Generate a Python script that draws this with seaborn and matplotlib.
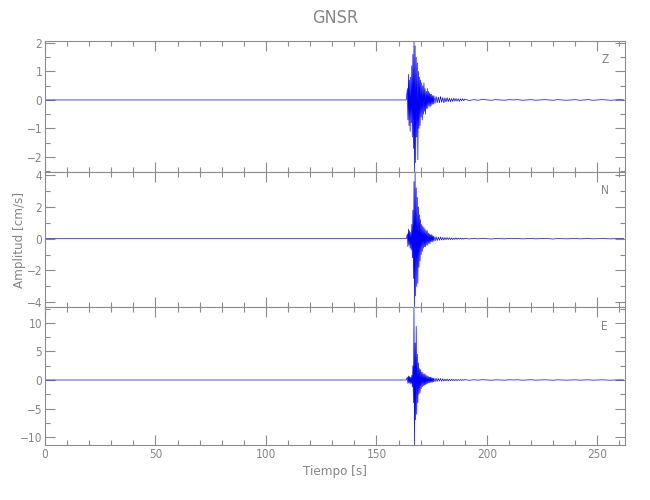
import numpy as np
import pandas as pd
import matplotlib
matplotlib.use("Agg")
import matplotlib.pyplot as plt
from matplotlib import font_manager
from matplotlib.ticker import MultipleLocator
import seaborn as sns

# ---------------- data ----------------
time = [0.0, 163.5,
        164.00, 164.25, 164.50, 164.75, 165.00, 165.25, 165.50, 165.75,
        166.00, 166.25, 166.50, 166.75, 167.00, 167.25, 167.50, 167.75,
        168.00, 168.25, 168.50, 168.75, 169.00, 169.25, 169.50, 169.75,
        170.00, 170.25, 170.50, 170.75, 171.00, 171.25, 171.50, 171.75,
        172.00, 172.25, 172.50, 172.75, 173.00, 173.25, 173.50, 173.75,
        174.00, 174.25, 174.50, 174.75, 175.00, 175.25, 175.50, 175.75,
        176.00,
        176.5, 177.0, 177.5, 178.0, 178.5, 179.0, 179.5, 180.0, 180.5, 181.0,
        181.5, 182.0, 182.5, 183.0, 183.5, 184.0, 184.5, 185.0, 185.5, 186.0,
        186.5, 187.0, 187.5, 188.0, 188.5, 189.0, 189.5, 190.0,
        192, 194, 196, 198, 200, 202, 204, 206, 208, 210, 212, 214,
        216, 218, 220, 222, 224, 226, 228, 230, 232, 234, 236, 238,
        240, 242, 244, 246, 248, 250, 252, 254, 256, 258, 260, 262]

comp_z = [0.0, 0.0,
          0.4, -0.7, 0.9, -0.9, 0.7, -1.1, 0.8, -0.8,
          1.2, -1.3, 1.6, -1.7, 2.07, -2.53, 1.9, -2.2,
          1.5, -1.3, 1.3, -2.1, 1.0, -1.0, 0.8, -0.9,
          0.7, -0.6, 0.6, -0.7, 0.5, -0.5, 0.6, -0.4,
          0.4, -0.5, 0.3, -0.3, 0.4, -0.3, 0.3, -0.2,
          0.25, -0.25, 0.2, -0.2, 0.2, -0.15, 0.15, -0.15,
          0.15,
          -0.12, 0.12, -0.1, 0.1, -0.1, 0.12, -0.08, 0.08, -0.1, 0.07,
          -0.07, 0.08, -0.06, 0.06, -0.06, 0.05, -0.05, 0.06, -0.04, 0.05,
          -0.04, 0.04, -0.05, 0.04, -0.03, 0.04, -0.03, 0.03,
          -0.02, 0.01, -0.01, 0.02, 0.0, -0.01, 0.01, 0.0, -0.01, 0.01, 0.0, 0.01,
          -0.01, 0.0, 0.01, -0.01, 0.0, 0.01, 0.0, -0.01, 0.01, 0.0, -0.01, 0.0,
          0.01, -0.01, 0.0, 0.01, -0.01, 0.0, 0.01, 0.0, -0.01, 0.0, 0.01, 0.0]

comp_n = [0.0, 0.0,
          0.3, -0.5, 0.6, -0.4, 0.5, -0.6, 0.4, -0.7,
          0.9, -1.2, 1.8, -2.5, 3.6, -4.3, 4.2, -3.6,
          3.2, -3.0, 2.6, -2.8, 2.0, -1.8, 1.5, -1.4,
          1.2, -1.0, 0.9, -0.8, 0.8, -0.6, 0.7, -0.5,
          0.6, -0.5, 0.5, -0.4, 0.5, -0.4, 0.35, -0.3,
          0.3, -0.3, 0.25, -0.2, 0.25, -0.2, 0.2, -0.15,
          0.15,
          -0.15, 0.12, -0.12, 0.1, -0.1, 0.1, -0.08, 0.08, -0.08, 0.07,
          -0.06, 0.07, -0.05, 0.06, -0.05, 0.05, -0.05, 0.04, -0.04, 0.05,
          -0.04, 0.04, -0.03, 0.04, -0.03, 0.03, -0.03, 0.03,
          -0.02, 0.02, -0.01, 0.02, 0.0, -0.02, 0.01, 0.0, -0.01, 0.02, 0.0, 0.01,
          -0.01, 0.0, 0.02, -0.01, 0.0, 0.01, 0.0, -0.02, 0.01, 0.0, -0.01, 0.0,
          0.01, -0.01, 0.0, 0.01, -0.01, 0.0, 0.01, 0.0, -0.01, 0.0, 0.01, 0.0]

comp_e = [0.0, 0.0,
          0.5, -0.6, 0.7, -0.5, 0.6, -0.7, 0.5, -0.6,
          0.8, -1.2, 2.5, -4.0, 12.8, -11.4, 6.5, -7.0,
          9.4, -6.0, 4.5, -4.0, 3.0, -2.5, 2.0, -2.2,
          1.8, -1.5, 1.4, -1.2, 1.3, -1.0, 1.0, -0.9,
          1.1, -0.8, 0.8, -0.7, 0.7, -0.6, 0.6, -0.5,
          0.5, -0.5, 0.5, -0.4, 0.4, -0.4, 0.35, -0.3,
          0.3,
          -0.3, 0.3, -0.25, 0.25, -0.2, 0.25, -0.2, 0.2, -0.2, 0.15,
          -0.15, 0.15, -0.15, 0.12, -0.12, 0.12, -0.1, 0.1, -0.1, 0.1,
          -0.1, 0.08, -0.08, 0.08, -0.08, 0.07, -0.07, 0.07,
          -0.05, 0.04, -0.03, 0.05, 0.0, -0.04, 0.03, 0.0, -0.03, 0.04, 0.0, 0.03,
          -0.03, 0.0, 0.04, -0.03, 0.0, 0.03, 0.0, -0.04, 0.03, 0.0, -0.03, 0.0,
          0.03, -0.03, 0.0, 0.03, -0.03, 0.0, 0.03, 0.0, -0.03, 0.0, 0.02, 0.0]

components = ["Z", "N", "E"]
title = "GNSR"
xlabel = "Tiempo [s]"
ylabel = "Amplitud [cm/s]"
x_max = 262.5

# ---------------- style ----------------
sns.set_theme(style="white")
avail = {f.name for f in font_manager.fontManager.ttflist}
fam = "Liberation Sans Narrow" if "Liberation Sans Narrow" in avail else "DejaVu Sans"
plt.rcParams["font.family"] = [fam, "DejaVu Sans"]
plt.rcParams["font.stretch"] = "condensed"
plt.rcParams["font.weight"] = "light"
gray_txt = "#858585"
gray_ax = "#8c8c8c"

df = pd.DataFrame({"t": time, "Z": comp_z, "N": comp_n, "E": comp_e})

fig = plt.figure(figsize=(6.5, 5.0), dpi=100)
W, H = 650, 500
left, right = 45, 625
bounds = [(41, 172), (172, 307), (307, 445)]
steps = [(1, 0.5), (2, 1), (5, 2.5)]

axes = []
for i, (comp, (top, bot), (maj, mnr)) in enumerate(zip(components, bounds, steps)):
    ax = fig.add_axes([left / W, 1 - bot / H, (right - left) / W, (bot - top) / H])
    sns.lineplot(data=df, x="t", y=comp, ax=ax, color="#0000ff", linewidth=0.5,
                 estimator=None, sort=False)
    ax.set_xlim(0, x_max)
    ax.set_ylim(df[comp].min(), df[comp].max())
    ax.xaxis.set_major_locator(MultipleLocator(50))
    ax.xaxis.set_minor_locator(MultipleLocator(10))
    ax.yaxis.set_major_locator(MultipleLocator(maj))
    ax.yaxis.set_minor_locator(MultipleLocator(mnr))
    ax.tick_params(which="both", direction="in", top=True, right=True,
                   bottom=True, left=True, color=gray_ax, labelcolor=gray_txt,
                   labelsize=8.5, width=0.8, pad=2)
    ax.tick_params(which="major", length=7)
    ax.tick_params(which="minor", length=3.5)
    for s in ax.spines.values():
        s.set_color(gray_ax)
        s.set_linewidth(0.8)
    ax.set_xlabel("")
    ax.set_ylabel("")
    if i < 2:
        ax.tick_params(labelbottom=False)
    ax.text(0.965, 0.86, comp, transform=ax.transAxes, ha="center", va="center",
            color=gray_txt, fontsize=8.5)
    axes.append(ax)

axes[2].set_xlabel(xlabel, color=gray_txt, fontsize=9.5, labelpad=3)
fig.text(20 / W, 1 - 240 / H, ylabel, rotation=90, ha="center", va="center",
         color=gray_txt, fontsize=9.5)
fig.text((left + right) / 2 / W, 1 - 18 / H, title, ha="center", va="center",
         color=gray_txt, fontsize=13)

fig.savefig("out.png", dpi=100)
